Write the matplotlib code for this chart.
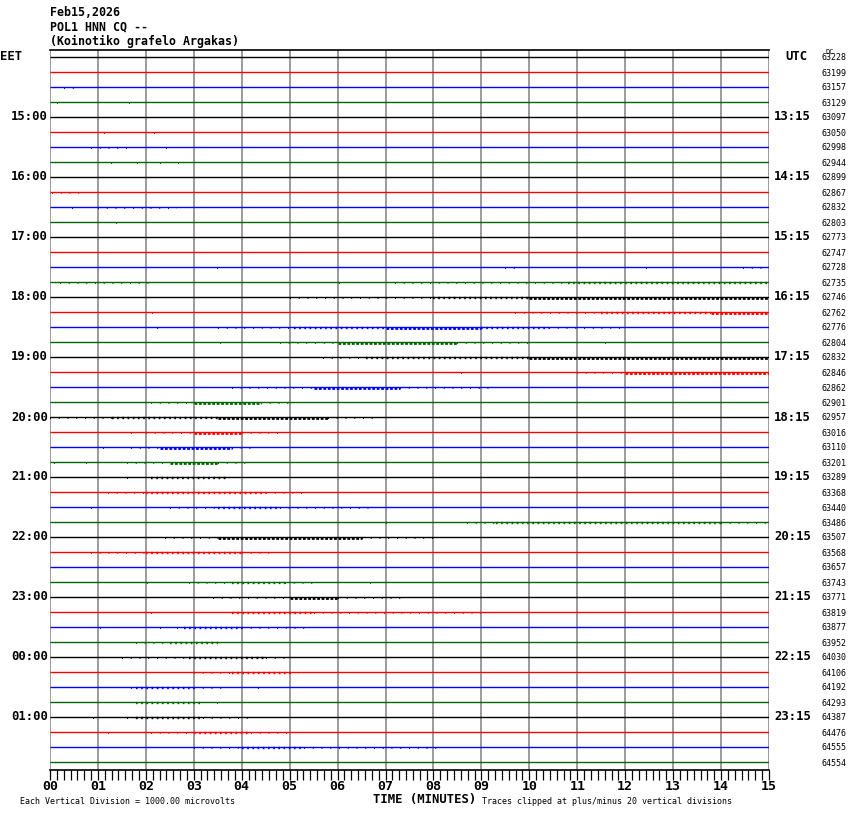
import matplotlib
matplotlib.use("Agg")
import matplotlib.pyplot as plt
import numpy as np

W, H = 850, 814

TITLE = ["Feb15,2026", "POL1 HNN CQ --", "(Koinotiko grafelo Argakas)"]
TRACE_COLORS = ["black", "red", "blue", "#006600"]
N_TRACES = 48
MINUTES = 15
LEFT_LABELS = {0: "EET", 4: "15:00", 8: "16:00", 12: "17:00", 16: "18:00", 20: "19:00",
               24: "20:00", 28: "21:00", 32: "22:00", 36: "23:00", 40: "00:00", 44: "01:00"}
RIGHT_LABELS = {4: "13:15", 8: "14:15", 12: "15:15", 16: "16:15", 20: "17:15", 24: "18:15",
                28: "19:15", 32: "20:15", 36: "21:15", 40: "22:15", 44: "23:15"}
DC_VALUES = [63228, 63199, 63157, 63129, 63097, 63050, 62998, 62944, 62899, 62867, 62832, 62803,
             62773, 62747, 62728, 62735, 62746, 62762, 62776, 62804, 62832, 62846, 62862, 62901,
             62957, 63016, 63110, 63201, 63289, 63368, 63440, 63486, 63507, 63568, 63657, 63743,
             63771, 63819, 63877, 63952, 64030, 64106, 64192, 64293, 64387, 64476, 64555, 64554]

# activity on each trace: (row, start min, end min, level 1=sparse .. 3=dense)
BURSTS = [
    (2, 0.3, 0.6, 1), (3, 0.15, 0.2, 1), (3, 1.65, 1.7, 1),
    (5, 1.13, 1.17, 1), (5, 2.18, 2.22, 1), (6, 0.85, 1.6, 1), (6, 2.43, 2.48, 1),
    (7, 1.28, 1.32, 1), (7, 1.82, 1.87, 1), (7, 2.3, 2.33, 1), (7, 2.68, 2.7, 1),
    (9, 0.05, 0.65, 1), (10, 0.45, 0.5, 1), (10, 1.0, 2.65, 1), (11, 1.38, 1.42, 1),
    (14, 3.48, 3.52, 1), (14, 9.5, 9.8, 1), (14, 12.43, 12.47, 1), (14, 14.45, 15, 1),
    (15, 0.2, 2.1, 1), (15, 6.03, 6.07, 1), (15, 7.2, 10.8, 1), (15, 10.8, 15, 2),
    (16, 5.0, 8.0, 1), (16, 8.0, 10.0, 2), (16, 10.0, 15, 3),
    (17, 2.13, 2.17, 1), (17, 9.7, 11.5, 1), (17, 11.5, 13.8, 2), (17, 13.8, 15, 3),
    (18, 2.23, 2.27, 1), (18, 3.5, 5.1, 1), (18, 5.1, 7, 2), (18, 7, 9, 3), (18, 9, 10.4, 2),
    (18, 10.4, 12, 1),
    (19, 3.55, 3.6, 1), (19, 4.8, 6, 1), (19, 6, 8.5, 3), (19, 8.5, 10, 1), (19, 11.58, 11.62, 1),
    (20, 5.7, 6.6, 1), (20, 6.6, 10, 2), (20, 10, 15, 3),
    (21, 8.58, 8.62, 1), (21, 11.0, 12, 1), (21, 12, 15, 3),
    (22, 3.8, 5.5, 1), (22, 5.5, 7.3, 3), (22, 7.3, 9.2, 1),
    (23, 2.1, 3.0, 1), (23, 3.0, 4.4, 3), (23, 4.4, 5.1, 1),
    (24, 0.0, 1.3, 1), (24, 1.3, 3.5, 2), (24, 3.5, 5.8, 3), (24, 5.8, 6.8, 1),
    (25, 1.68, 1.72, 1), (25, 2.0, 3.0, 1), (25, 3.0, 4.0, 3), (25, 4.0, 4.8, 1),
    (26, 1.1, 1.14, 1), (26, 1.7, 2.3, 1), (26, 2.3, 3.8, 3), (26, 3.8, 4.2, 1),
    (27, 0.08, 0.12, 1), (27, 0.75, 0.8, 1), (27, 1.6, 2.5, 1), (27, 2.5, 3.5, 3), (27, 3.5, 4.1, 1),
    (28, 1.6, 1.65, 1), (28, 2.1, 3.7, 2),
    (29, 1.2, 2.0, 1), (29, 2.0, 4.5, 2), (29, 4.5, 5.3, 1),
    (30, 0.85, 0.9, 1), (30, 2.5, 3.5, 1), (30, 3.5, 4.8, 2), (30, 4.8, 6.7, 1),
    (31, 7.0, 7.04, 1), (31, 8.7, 9.3, 1), (31, 9.3, 14, 2), (31, 14, 15, 1),
    (32, 2.4, 3.5, 1), (32, 3.5, 6.5, 3), (32, 6.5, 8.1, 1),
    (33, 0.85, 2.0, 1), (33, 2.0, 4.0, 2), (33, 4.0, 4.6, 1),
    (35, 2.03, 2.07, 1), (35, 2.9, 3.8, 1), (35, 3.8, 4.9, 2), (35, 4.9, 5.5, 1), (35, 6.68, 6.72, 1),
    (36, 3.4, 5.0, 1), (36, 5.0, 6.0, 3), (36, 6.0, 7.4, 1),
    (37, 2.1, 2.14, 1), (37, 3.8, 5.5, 2), (37, 5.5, 9.0, 1),
    (38, 1.05, 1.1, 1), (38, 2.3, 2.35, 1), (38, 2.65, 2.8, 1), (38, 2.8, 4.0, 2), (38, 4.0, 5.4, 1),
    (39, 1.8, 2.5, 1), (39, 2.5, 3.5, 2),
    (40, 1.5, 2.9, 1), (40, 2.9, 4.5, 2), (40, 4.5, 5.0, 1),
    (41, 3.0, 3.8, 1), (41, 3.8, 5.0, 2), (41, 5.0, 5.2, 1),
    (42, 1.7, 1.8, 1), (42, 1.8, 3.0, 2), (42, 3.0, 3.6, 1), (42, 4.33, 4.37, 1),
    (43, 1.8, 3.2, 2), (43, 3.48, 3.52, 1),
    (44, 0.9, 0.94, 1), (44, 1.6, 1.8, 1), (44, 1.8, 3.2, 2), (44, 3.2, 4.2, 1),
    (45, 1.2, 1.24, 1), (45, 2.1, 3.0, 1), (45, 3.0, 4.2, 2), (45, 4.2, 5.1, 1),
    (46, 3.0, 4.0, 1), (46, 4.0, 5.3, 2), (46, 5.3, 8.2, 1),
]

# (linewidth, dash pattern) per activity level
LEVEL_STYLE = {1: (1.4, (0, (0.5, 4.0))), 2: (1.7, (0, (0.7, 1.5))), 3: (2.0, (0, (1.0, 0.6)))}
MONO = "DejaVu Sans Mono"


def fxy(x, y):
    """pixel position (from top-left) -> figure fraction"""
    return x / W, 1 - y / H


fig = plt.figure(figsize=(W / 100, H / 100), dpi=100)
fig.patch.set_facecolor("white")
ax = fig.add_axes([50 / W, 44 / H, 719 / W, 720 / H])
ax.set_xlim(0, MINUTES)
ax.set_ylim(N_TRACES - 0.4667, -0.4667)

for m in range(MINUTES + 1):
    ax.axvline(m, color="#8a8a8a", lw=1.2, zorder=1)

for r in range(N_TRACES):
    ax.plot([0, MINUTES], [r, r], color=TRACE_COLORS[r % 4], lw=1.0, zorder=2,
            solid_capstyle="butt")

for r, t0, t1, lev in BURSTS:
    lw, ls = LEVEL_STYLE[lev]
    ax.plot([t0, max(t1, t0 + 0.03)], [r + 0.05, r + 0.05], color=TRACE_COLORS[r % 4],
            lw=lw, linestyle=ls, zorder=3, solid_capstyle="butt", dash_capstyle="butt")

for s in ("left", "right"):
    ax.spines[s].set_visible(False)
for s in ("top", "bottom"):
    ax.spines[s].set_color("black")
    ax.spines[s].set_linewidth(1.2)
ax.set_yticks([])
ax.set_xticks(range(MINUTES + 1))
ax.set_xticklabels([f"{m:02d}" for m in range(MINUTES + 1)], fontsize=9.5,
                   fontweight="bold", family=MONO)
ax.set_xticks(np.arange(0, MINUTES * 7 + 1) / 7, minor=True)
ax.tick_params(axis="x", which="both", direction="out", length=7, width=0.9,
               color="black", pad=0.5)

for i, t in enumerate(TITLE):
    fig.text(*fxy(50, 12 + 14.5 * i), t, fontsize=8.4, fontweight="bold", family=MONO,
             ha="left", va="center")

for r, lbl in LEFT_LABELS.items():
    y = 57 + 15 * r
    if r == 0:
        fig.text(*fxy(0, y), lbl, fontsize=8.8, fontweight="bold", family=MONO,
                 ha="left", va="center")
    else:
        fig.text(*fxy(48, y), lbl, fontsize=8.8, fontweight="bold", family=MONO,
                 ha="right", va="center")

fig.text(*fxy(785, 57), "UTC", fontsize=8.8, fontweight="bold", family=MONO,
         ha="left", va="center")
for r, lbl in RIGHT_LABELS.items():
    fig.text(*fxy(774, 57 + 15 * r), lbl, fontsize=8.8, fontweight="bold", family=MONO,
             ha="left", va="center")

fig.text(*fxy(826, 52), "DC", fontsize=5, family=MONO, ha="left", va="center")
for r, v in enumerate(DC_VALUES):
    fig.text(*fxy(821, 58 + 15 * r), str(v), fontsize=6, family=MONO,
             ha="left", va="center")

fig.text(*fxy(373, 799), "TIME (MINUTES)", fontsize=8.8, fontweight="bold", family=MONO,
         ha="left", va="center")
fig.text(*fxy(20, 801), "Each Vertical Division = 1000.00 microvolts", fontsize=6,
         family=MONO, ha="left", va="center")
fig.text(*fxy(482, 801), "Traces clipped at plus/minus 20 vertical divisions", fontsize=6,
         family=MONO, ha="left", va="center")

fig.savefig("out.png", dpi=100, facecolor="white")
